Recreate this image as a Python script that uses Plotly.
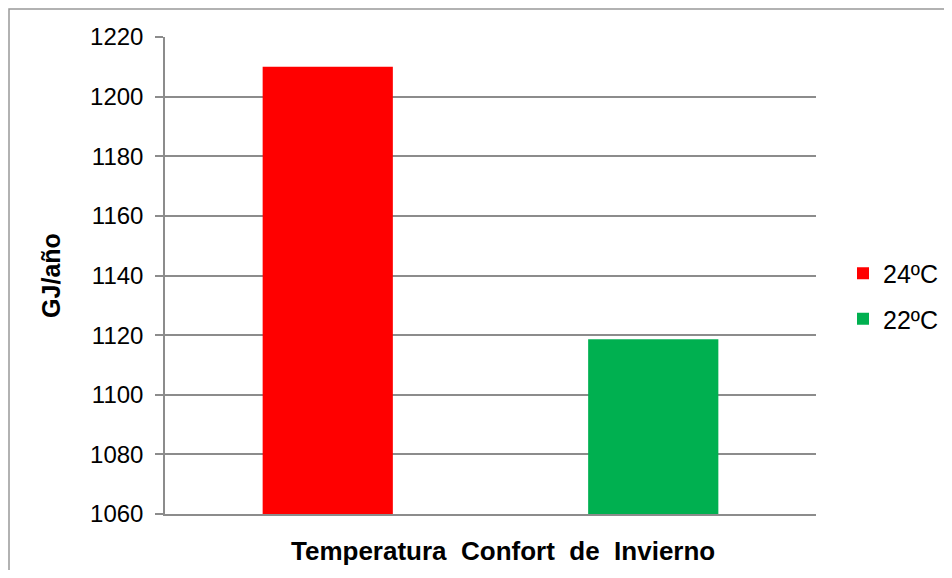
import plotly.graph_objects as go

# chart values
series = ["24ºC", "22ºC"]
values = [1210, 1118.6]
colors = ["#ff0000", "#00b050"]
category = "Temperatura Confort de Invierno"
y_ticks = [1060, 1080, 1100, 1120, 1140, 1160, 1180, 1200, 1220]

FONT = "Liberation Sans, Arial, sans-serif"
GRID = "#8c8c8c"

# the page body has an 8px margin, so the figure is sized to fit inside it
W, H = 936, 562
L, R, T, B = 157, 128, 29, 56
plot_w, plot_h = W - L - R, H - T - B

fig = go.Figure()
for i, (name, val, col) in enumerate(zip(series, values, colors)):
    fig.add_bar(
        x=[0], y=[val], name=name, marker_color=col, marker_line_width=0,
        width=0.2, offset=-0.35 + 0.5 * i, legendgroup=name,
    )

# category title, drawn as an annotation since excel set it a bit right of centre
fig.add_annotation(
    text="<b>" + category.replace(" ", " \u00a0") + "</b>",
    xref="paper", yref="paper", x=(337 + 0.5) / plot_w, y=-37 / plot_h,
    xanchor="center", yanchor="middle", showarrow=False,
    font=dict(size=26, family=FONT, color="black"),
)

fig.update_layout(
    width=W, height=H,
    paper_bgcolor="white", plot_bgcolor="white",
    font=dict(family=FONT, color="black", size=24),
    margin=dict(l=L, r=R, t=T, b=B, autoexpand=False),
    barmode="overlay",
    showlegend=True,
    legend=dict(
        xref="container", yref="container",
        x=835 / W, y=1 - 288 / H, xanchor="left", yanchor="middle",
        font=dict(size=25, family=FONT), tracegroupgap=10,
        traceorder="grouped", itemwidth=30,
    ),
    xaxis=dict(
        range=[-0.5, 0.5], showticklabels=False, showgrid=False,
        zeroline=False, ticks="",
        showline=True, linecolor=GRID, linewidth=1.5,
    ),
    yaxis=dict(
        range=[y_ticks[0], y_ticks[-1]], tickvals=y_ticks,
        showgrid=True, gridcolor=GRID, gridwidth=1.5,
        showline=True, linecolor=GRID, linewidth=1.5,
        ticks="outside", ticklen=8, tickcolor=GRID, tickwidth=1.5,
        zeroline=False, tickfont=dict(size=24), ticklabelstandoff=7,
        title=dict(text="<b>GJ/año</b>", font=dict(size=25), standoff=22),
    ),
    shapes=[
        dict(type="rect", xref="paper", yref="paper",
             x0=(1 - L) / plot_w, x1=2, y0=-2, y1=(plot_h + T - 1) / plot_h,
             line=dict(color="#999999", width=1.5), layer="below"),
    ],
)

fig.write_html("out.html")
